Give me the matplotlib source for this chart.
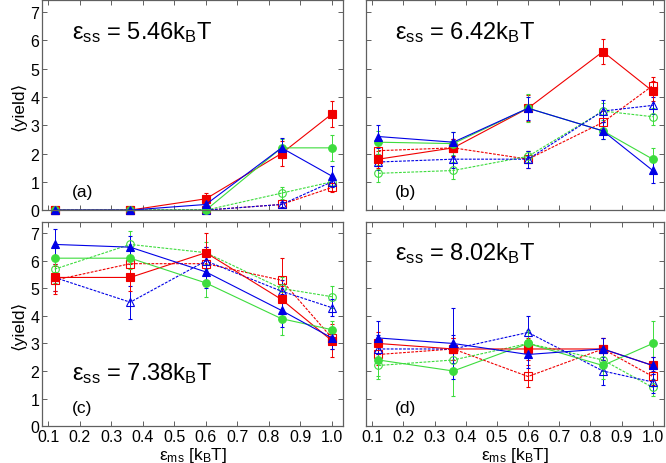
import matplotlib
matplotlib.use('Agg')
import matplotlib.pyplot as plt
import numpy as np

plt.rcParams['font.family'] = ['Liberation Sans', 'DejaVu Sans']
plt.rcParams['mathtext.fontset'] = 'custom'
plt.rcParams['mathtext.rm'] = 'Liberation Sans'
plt.rcParams['mathtext.it'] = 'Liberation Sans'
plt.rcParams['mathtext.default'] = 'regular'
plt.rcParams['xtick.direction'] = 'in'
plt.rcParams['ytick.direction'] = 'in'
plt.rcParams['xtick.top'] = True
plt.rcParams['ytick.right'] = True

# x values (eps_ms)
eps_ms = [0.12, 0.36, 0.6, 0.84, 1.0]
eps_ss = ['5.46', '6.42', '7.38', '8.02']
panel_tags = ['(a)', '(b)', '(c)', '(d)']

# series: red square, green circle, blue triangle; filled=solid, open=dashed
red_full = [[0, 0, 0.4, 2.0, 3.4],
            [1.8, 2.2, 3.6, 5.6, 4.2],
            [5.4, 5.4, 6.3, 4.6, 3.1],
            [3.0, 2.8, 2.8, 2.8, 2.2]]
red_open = [[0, 0, 0, 0.2, 0.8],
            [2.1, 2.2, 1.8, 3.1, 4.4],
            [5.3, 5.9, 5.9, 5.3, 3.2],
            [2.6, 2.8, 1.8, 2.8, 1.8]]
green_full = [[0, 0, 0, 2.2, 2.2],
              [2.4, 2.35, 3.6, 2.8, 1.8],
              [6.1, 6.1, 5.2, 3.9, 3.5],
              [2.4, 2.0, 3.0, 2.2, 3.0]]
green_open = [[0, 0, 0, 0.6, 1.0],
              [1.3, 1.4, 1.9, 3.5, 3.3],
              [5.7, 6.6, 6.3, 5.0, 4.7],
              [2.2, 2.4, 3.0, 2.4, 1.4]]
blue_full = [[0, 0, 0.2, 2.2, 1.2],
             [2.6, 2.4, 3.6, 2.8, 1.4],
             [6.6, 6.5, 5.6, 4.2, 3.2],
             [3.2, 3.0, 2.6, 2.8, 2.2]]
blue_open = [[0, 0, 0, 0.2, 1.0],
             [1.7, 1.8, 1.8, 3.5, 3.7],
             [5.4, 4.5, 6.0, 4.9, 4.3],
             [2.8, 2.8, 3.4, 2.0, 1.6]]

# error bars
red_full_err = [[0, 0, 0.2, 0.45, 0.45],
                [0.3, 0.3, 0.45, 0.45, 0.35],
                [0.5, 0.5, 0.7, 0.5, 0.6],
                [0.4, 0.4, 0.4, 0.4, 0.3]]
red_open_err = [[0, 0, 0, 0.1, 0.15],
                [0.3, 0.3, 0.3, 0.4, 0.3],
                [0.5, 0.5, 0.6, 0.8, 0.4],
                [0.4, 0.4, 0.4, 0.4, 0.3]]
green_full_err = [[0, 0, 0, 0.3, 0.45],
                  [0.4, 0.4, 0.5, 0.3, 0.4],
                  [0.5, 0.4, 0.5, 0.6, 0.3],
                  [0.7, 0.9, 0.5, 0.5, 0.8]]
green_open_err = [[0, 0, 0, 0.2, 0.2],
                  [0.3, 0.3, 0.2, 0.3, 0.3],
                  [0.5, 0.5, 0.4, 0.4, 0.4],
                  [0.4, 0.5, 0.4, 0.4, 0.3]]
blue_full_err = [[0, 0, 0.1, 0.35, 0.35],
                 [0.4, 0.35, 0.4, 0.3, 0.45],
                 [0.55, 0.4, 0.6, 0.6, 0.4],
                 [0.6, 1.3, 0.5, 0.4, 0.3]]
blue_open_err = [[0, 0, 0, 0.1, 0.2],
                 [0.3, 0.3, 0.3, 0.4, 0.3],
                 [0.5, 0.6, 0.5, 0.4, 0.3],
                 [0.5, 0.5, 0.6, 0.5, 0.4]]

red = '#f00000'
green = '#3ddc3d'
blue = '#0000e6'
spine_col = '#606060'

series = [
    (red_open, red_open_err, red, 's', False),
    (green_open, green_open_err, green, 'o', False),
    (blue_open, blue_open_err, blue, '^', False),
    (red_full, red_full_err, red, 's', True),
    (green_full, green_full_err, green, 'o', True),
    (blue_full, blue_full_err, blue, '^', True),
]

fig = plt.figure(figsize=(6.66, 4.64), dpi=100)
rects = [[0.063, 0.545, 0.452, 0.4526],
         [0.5495, 0.545, 0.447, 0.4526],
         [0.063, 0.0797, 0.452, 0.44],
         [0.5495, 0.0797, 0.447, 0.44]]
label_pos = [(0.10, 0.82), (0.097, 0.82), (0.10, 0.23), (0.097, 0.82)]

for k in range(4):
    ax = fig.add_axes(rects[k])
    for vals, errs, col, mk, filled in series:
        ax.errorbar(eps_ms, vals[k], yerr=errs[k], color=col, marker=mk,
                    markersize=5.5,
                    markerfacecolor=col if filled else 'none',
                    markeredgecolor=col, markeredgewidth=0.8,
                    linestyle='-' if filled else (0, (2.5, 1.2)),
                    linewidth=0.8, elinewidth=0.7, capsize=1.5, capthick=0.7,
                    clip_on=False)
    ax.set_xlim(0.08, 1.035)
    ax.set_ylim(0, 7.42)
    ax.set_xticks(np.arange(0.1, 1.01, 0.1))
    ax.set_yticks(range(8))
    for sp in ax.spines.values():
        sp.set_color(spine_col)
        sp.set_linewidth(0.9)
    ax.tick_params(colors=spine_col, labelcolor='black', labelsize=11.5,
                   length=3.5, width=0.7, pad=2)
    if k < 2:
        ax.set_xticklabels([])
    else:
        ax.set_xticklabels(['%.1f' % v for v in np.arange(0.1, 1.01, 0.1)])
        ax.set_xlabel('$ε_{ms}$ [k$_B$T]', fontsize=12.5, labelpad=1)
    if k % 2 == 1:
        ax.set_yticklabels([])
    else:
        ax.set_ylabel('⟨yield⟩', fontsize=12.5, labelpad=3)
    tx, ty = label_pos[k]
    ax.text(tx, ty, '$ε_{ss}$ = ' + eps_ss[k] + 'k$_B$T', transform=ax.transAxes,
            fontsize=17, ha='left', va='baseline')
    ax.text(tx, 0.09, panel_tags[k], transform=ax.transAxes, fontsize=12.5,
            ha='left', va='center')

fig.savefig('out.png', dpi=100)
